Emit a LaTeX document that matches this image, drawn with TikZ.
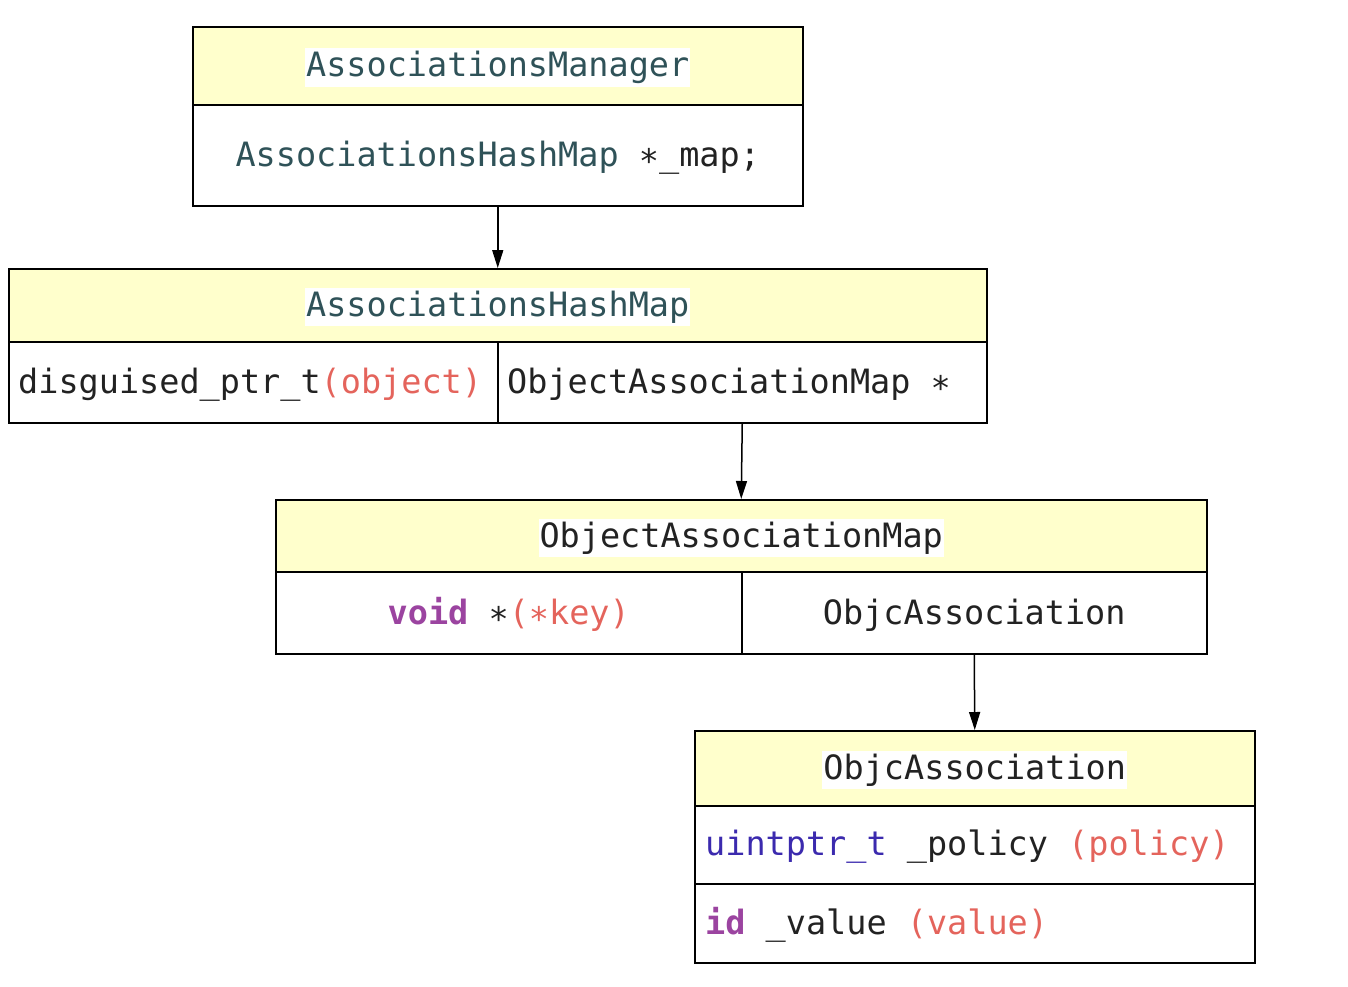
\documentclass[tikz,border=0pt]{standalone}
\usepackage{fontspec}
\setmonofont{DejaVu Sans Mono}
\usetikzlibrary{arrows.meta}
\definecolor{hdrfill}{HTML}{FFFFCC}
\definecolor{cteal}{HTML}{2F5258}
\definecolor{cred}{HTML}{E4645C}
\definecolor{cpurple}{HTML}{9B44A0}
\definecolor{cblue}{HTML}{3B2AAE}
\definecolor{ctext}{HTML}{222222}
\tikzset{
  cell/.style={draw=black, line width=1.5pt, anchor=north west, inner sep=0pt},
  hdr/.style={cell, fill=hdrfill},
  code/.style={font=\ttfamily\fontsize{33.5}{40}\selectfont, text=ctext, inner sep=0pt, yshift=-2pt},
  title/.style={code, fill=white, inner xsep=1pt, inner ysep=3pt},
  link/.style={draw=black, line width=1.5pt, -{Triangle[length=18pt,width=11pt]}}
}
\begin{document}
\begin{tikzpicture}[x=1pt,y=-1pt]
\useasboundingbox (0,0) rectangle (1348,986);
% Box 1
\node[hdr, minimum width=610pt, minimum height=78pt] (b1h) at (192,26) {};
\node[cell, minimum width=610pt, minimum height=101pt] (b1b) at (192,104) {};
\node[title, text=cteal] (t1) at (b1h.center) {AssociationsManager};
\node[code] (t1b) at (b1b.center) {\textcolor{cteal}{AssociationsHashMap} ∗\_map;};
% Box 2
\node[hdr, minimum width=978pt, minimum height=73pt] (b2h) at (8,268) {};
\node[cell, minimum width=489pt, minimum height=81pt] (b2l) at (8,341) {};
\node[cell, minimum width=489pt, minimum height=81pt] (b2r) at (497,341) {};
\node[title, text=cteal] (t2) at (b2h.center) {AssociationsHashMap};
\node[code, anchor=west] (t2l) at ([xshift=10pt]b2l.west) {disguised\_ptr\_t\textcolor{cred}{(object)}};
\node[code, anchor=west] (t2r) at ([xshift=10pt]b2r.west) {ObjectAssociationMap ∗};
% Box 3
\node[hdr, minimum width=931pt, minimum height=72pt] (b3h) at (275,499) {};
\node[cell, minimum width=466pt, minimum height=82pt] (b3l) at (275,571) {};
\node[cell, minimum width=465pt, minimum height=82pt] (b3r) at (741,571) {};
\node[title] (t3) at (b3h.center) {ObjectAssociationMap};
\node[code] (t3l) at (b3l.center) {\textcolor{cpurple}{\bfseries void} ∗\textcolor{cred}{(∗key)}};
\node[code] (t3r) at (b3r.center) {ObjcAssociation};
% Box 4
\node[hdr, minimum width=560pt, minimum height=75pt] (b4h) at (694,730) {};
\node[cell, minimum width=560pt, minimum height=78pt] (b4a) at (694,805) {};
\node[cell, minimum width=560pt, minimum height=79pt] (b4b) at (694,883) {};
\node[title] (t4) at (b4h.center) {ObjcAssociation};
\node[code, anchor=west] (t4a) at ([xshift=11pt]b4a.west) {\textcolor{cblue}{uintptr\_t} \_policy \textcolor{cred}{(policy)}};
\node[code, anchor=west] (t4b) at ([xshift=11pt]b4b.west) {\textcolor{cpurple}{\bfseries id} \_value \textcolor{cred}{(value)}};
% Links
\draw[link] (b1b.south) -- (b2h.north);
\draw[link] (b2r.south) -- (b3h.north);
\draw[link] (b3r.south) -- (b4h.north);
\end{tikzpicture}
\end{document}
